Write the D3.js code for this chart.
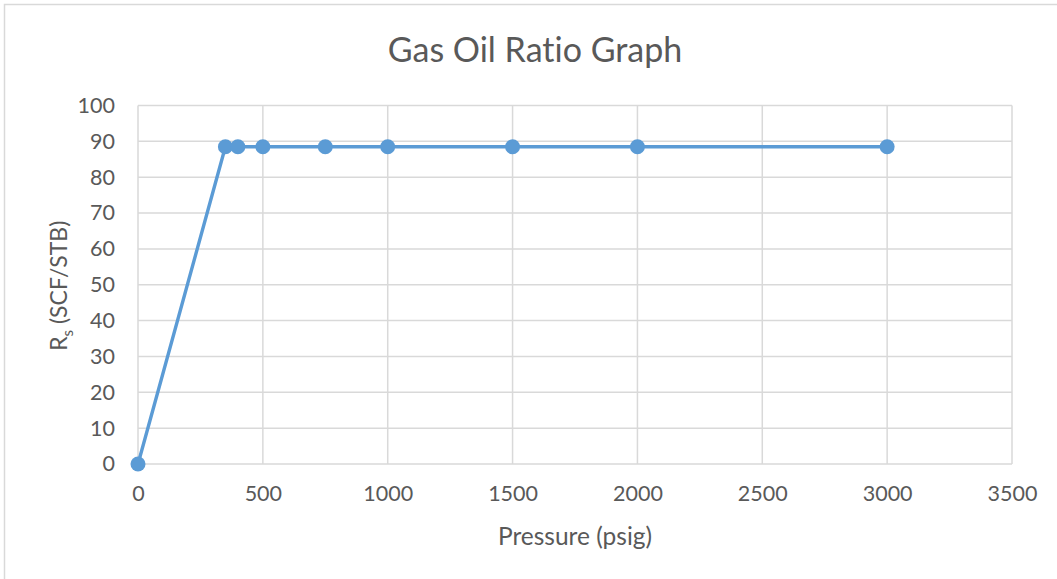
<!DOCTYPE html>
<html>
<head>
<meta charset="utf-8">
<script src="https://cdn.jsdelivr.net/npm/d3@7"></script>
<style>
  html, body { margin: 0; padding: 0; background: #fff; }
  svg { display: block; }
  text { font-variant-ligatures: none; }
</style>
</head>
<body>
<svg id="chart" width="1057" height="579"></svg>
<script>
// Solution gas-oil ratio vs. pressure
const pressure = [0, 350, 400, 500, 750, 1000, 1500, 2000, 3000];
const rs = [0, 88.5, 88.5, 88.5, 88.5, 88.5, 88.5, 88.5, 88.5];
const xTicks = [0, 500, 1000, 1500, 2000, 2500, 3000, 3500];
const yTicks = [0, 10, 20, 30, 40, 50, 60, 70, 80, 90, 100];

const svg = d3.select("#chart");
const font = "Lato, 'Open Sans', sans-serif";
const textColor = "#595959";
const gridColor = "#d9d9d9";
const seriesColor = "#5b9bd5";

// chart frame
svg.append("rect")
  .attr("x", 4.5).attr("y", 4.5)
  .attr("width", 1100).attr("height", 700)
  .attr("fill", "#fff").attr("stroke", "#d9d9d9").attr("stroke-width", 1.5);

const plot = { left: 138, right: 1012, top: 105.5, bottom: 464 };

const x = d3.scaleLinear().domain([0, 3500]).range([plot.left, plot.right]);
const y = d3.scaleLinear().domain([0, 100]).range([plot.bottom, plot.top]);

// gridlines
const g = svg.append("g");
g.selectAll("line.h").data(yTicks).enter().append("line")
  .attr("x1", plot.left).attr("x2", plot.right)
  .attr("y1", d => y(d)).attr("y2", d => y(d))
  .attr("stroke", gridColor).attr("stroke-width", 1.5);
g.selectAll("line.v").data(xTicks).enter().append("line")
  .attr("y1", plot.top).attr("y2", plot.bottom)
  .attr("x1", d => x(d)).attr("x2", d => x(d))
  .attr("stroke", gridColor).attr("stroke-width", 1.5);

// axes (labels only, Excel style)
const xAxis = d3.axisBottom(x).tickValues(xTicks).tickFormat(d3.format("d")).tickSize(0).tickPadding(31);
const yAxis = d3.axisLeft(y).tickValues(yTicks).tickFormat(d3.format("d")).tickSize(0).tickPadding(23);

const gx = svg.append("g").attr("transform", `translate(0,${plot.bottom})`).call(xAxis);
const gy = svg.append("g").attr("transform", `translate(${plot.left},0)`).call(yAxis);
[gx, gy].forEach(a => {
  a.select(".domain").remove();
  a.selectAll("text").attr("fill", textColor).style("font-family", font).style("font-size", "21.5px");
});
gx.selectAll("text").attr("dy", "0.3em");

// series line
svg.append("path")
  .datum(pressure.map((p, i) => [p, rs[i]]))
  .attr("fill", "none")
  .attr("stroke", seriesColor)
  .attr("stroke-width", 3.4)
  .attr("stroke-linejoin", "round")
  .attr("d", d3.line().x(d => x(d[0])).y(d => y(d[1])));

// markers
svg.selectAll("circle.pt").data(pressure.map((p, i) => [p, rs[i]])).enter().append("circle")
  .attr("cx", d => x(d[0])).attr("cy", d => y(d[1]))
  .attr("r", 7.5).attr("fill", seriesColor);

// title
svg.append("text")
  .attr("x", 535).attr("y", 62)
  .attr("text-anchor", "middle")
  .attr("fill", textColor)
  .style("font-family", font).style("font-size", "34px")
  .text("Gas Oil Ratio Graph");

// x-axis title
svg.append("text")
  .attr("x", 575).attr("y", 545)
  .attr("text-anchor", "middle")
  .attr("fill", textColor)
  .style("font-family", font).style("font-size", "24.5px")
  .text("Pressure (psig)");

// y-axis title with subscript
const yt = svg.append("text")
  .attr("transform", `translate(67,${(plot.top + plot.bottom) / 2 + 1}) rotate(-90)`)
  .attr("text-anchor", "middle")
  .attr("fill", textColor)
  .style("font-family", font).style("font-size", "23px");
yt.append("tspan").text("R");
yt.append("tspan").attr("dy", 6).style("font-size", "15px").text("s");
yt.append("tspan").attr("dy", -6).text(" (SCF/STB)");
</script>
</body>
</html>
